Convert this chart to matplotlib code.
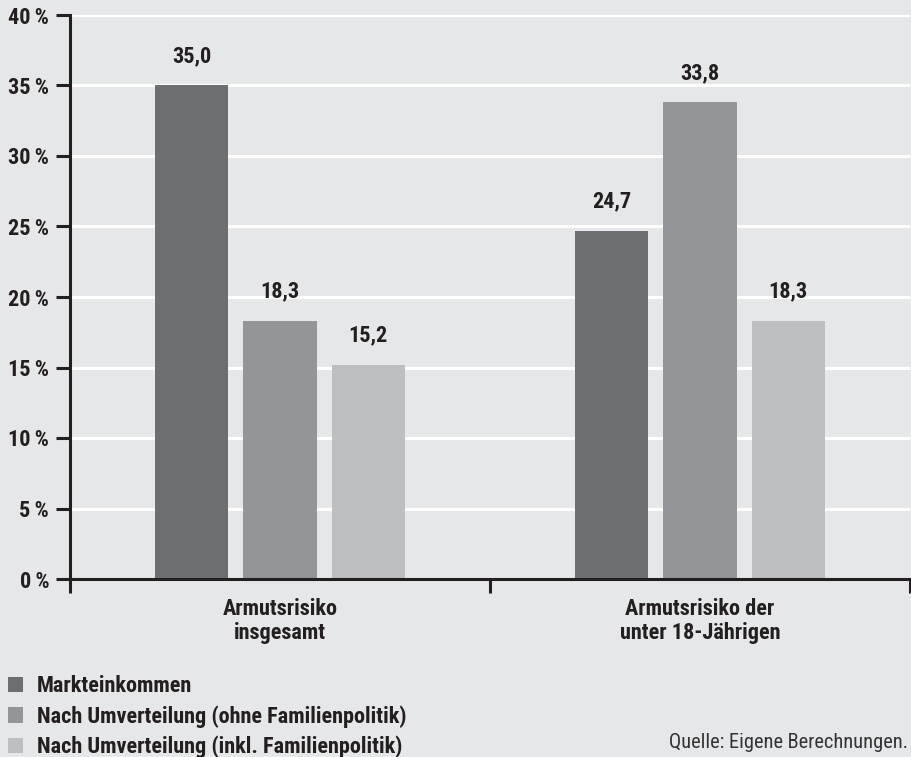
import matplotlib
matplotlib.use('Agg')
import matplotlib.pyplot as plt
import numpy as np

# Data
categories = ['Armutsrisiko\ninsgesamt', 'Armutsrisiko der\nunter 18-Jährigen']
series_names = ['Markteinkommen',
                'Nach Umverteilung (ohne Familienpolitik)',
                'Nach Umverteilung (inkl. Familienpolitik)']
markt = [35.0, 24.7]
ohne_fam = [18.3, 33.8]
inkl_fam = [15.2, 18.3]
y_ticks = [0, 5, 10, 15, 20, 25, 30, 35, 40]

colors = ['#6d6e71', '#939598', '#bcbec0']
bg = '#e6e7e9'
ink = '#231f20'
fonts = ['Liberation Sans Narrow', 'Roboto Condensed', 'DejaVu Sans']
plt.rcParams['font.family'] = fonts

fig = plt.figure(figsize=(9.11, 7.57), dpi=100, facecolor=bg)
ax = fig.add_axes([70 / 911, (757 - 579) / 757, 840 / 911, (579 - 15) / 757])
ax.set_facecolor(bg)

x = np.arange(len(categories))
width = 0.174
offset = 0.21
for i, vals in enumerate([markt, ohne_fam, inkl_fam]):
    pos = x + (i - 1) * offset
    ax.bar(pos, vals, width, color=colors[i], label=series_names[i], zorder=3)
    for p, v in zip(pos, vals):
        ax.text(p, v + 1.3, f'{v:.1f}'.replace('.', ','), ha='center', va='bottom',
                fontsize=16, fontweight='bold', color=ink)

ax.set_xlim(-0.5, 1.5)
ax.set_ylim(0, 40)
ax.set_yticks(y_ticks)
ax.set_yticklabels([f'{t}\u2009%' for t in y_ticks], fontsize=16, fontweight='bold', color=ink)
ax.yaxis.grid(True, color='white', linewidth=2.2, zorder=1)
ax.set_axisbelow(True)

ax.set_xticks(x)
ax.set_xticklabels(categories, fontsize=16, fontweight='bold', color=ink, linespacing=1.1)
ax.set_xticks([-0.5, 0.5, 1.5], minor=True)
ax.tick_params(axis='x', which='major', length=0, pad=14)
ax.tick_params(axis='x', which='minor', length=10, width=2.2, color=ink, direction='out')
ax.tick_params(axis='y', length=10, width=2.2, color=ink, pad=5)

for s in ['top', 'right']:
    ax.spines[s].set_visible(False)
for s in ['left', 'bottom']:
    ax.spines[s].set_linewidth(2.2)
    ax.spines[s].set_color(ink)
    ax.spines[s].set_zorder(4)

leg = fig.legend(loc='lower left', bbox_to_anchor=(0.0, -0.012), frameon=False,
                 prop={'family': fonts, 'weight': 'bold', 'size': 16},
                 handlelength=0.68, handleheight=0.68, handletextpad=0.62,
                 labelspacing=0.36, borderaxespad=0.0, borderpad=0.35)
for t in leg.get_texts():
    t.set_color(ink)

fig.text(0.997, 0.006, 'Quelle: Eigene Berechnungen.', ha='right', va='bottom',
         fontsize=14.7, color='#333333')

plt.savefig('out.png', dpi=100, facecolor=bg)
